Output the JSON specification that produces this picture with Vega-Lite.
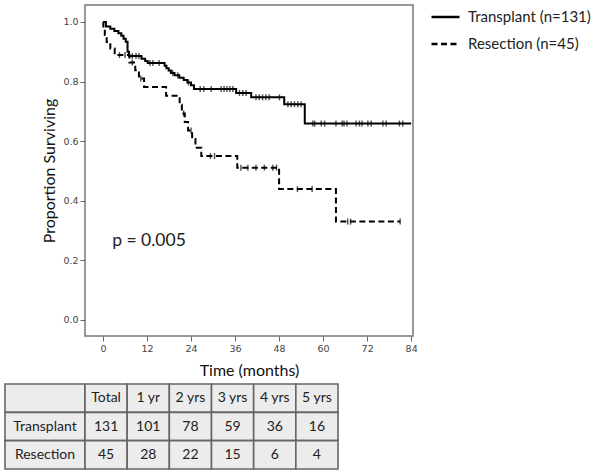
{
  "$schema": "https://vega.github.io/schema/vega-lite/v6.json",
  "padding": {"left": 4, "top": 4, "right": 0, "bottom": 0},
  "background": "white",
  "config": {
    "view": {"stroke": null},
    "font": "Lato",
    "axis": {
      "labelFont": "DejaVu Sans", "labelFontSize": 9.5, "labelColor": "#444",
      "tickColor": "#666", "tickSize": 5, "tickWidth": 1, "domain": false, "grid": false,
      "labelPadding": 2, "titleFont": "Lato", "titleFontSize": 16, "titleFontWeight": "normal",
      "titleColor": "#111"
    },
    "axisX": {"titlePadding": 10},
    "axisY": {"titlePadding": 5},
    "legend": {
      "title": null, "orient": "right", "offset": 12, "symbolType": "stroke", "symbolSize": 784,
      "symbolStrokeWidth": 2.5, "symbolStrokeColor": "black", "labelFont": "Lato", "labelFontSize": 15,
      "labelColor": "#222", "rowPadding": 3, "clipHeight": 24, "labelOffset": 7, "padding": 0
    }
  },
  "datasets": {
    "curves": [
      {"group": "Transplant (n=131)", "t": 0, "s": 1.0},
      {"group": "Transplant (n=131)", "t": 0.8, "s": 0.985},
      {"group": "Transplant (n=131)", "t": 2.0, "s": 0.977},
      {"group": "Transplant (n=131)", "t": 3.1, "s": 0.97},
      {"group": "Transplant (n=131)", "t": 4.2, "s": 0.962},
      {"group": "Transplant (n=131)", "t": 5.0, "s": 0.954},
      {"group": "Transplant (n=131)", "t": 5.6, "s": 0.944},
      {"group": "Transplant (n=131)", "t": 6.2, "s": 0.934},
      {"group": "Transplant (n=131)", "t": 6.7, "s": 0.9},
      {"group": "Transplant (n=131)", "t": 7.1, "s": 0.886},
      {"group": "Transplant (n=131)", "t": 10.5, "s": 0.877},
      {"group": "Transplant (n=131)", "t": 11.5, "s": 0.869},
      {"group": "Transplant (n=131)", "t": 12.2, "s": 0.862},
      {"group": "Transplant (n=131)", "t": 16.8, "s": 0.853},
      {"group": "Transplant (n=131)", "t": 17.3, "s": 0.845},
      {"group": "Transplant (n=131)", "t": 17.9, "s": 0.837},
      {"group": "Transplant (n=131)", "t": 18.5, "s": 0.829},
      {"group": "Transplant (n=131)", "t": 19.5, "s": 0.821},
      {"group": "Transplant (n=131)", "t": 20.8, "s": 0.813},
      {"group": "Transplant (n=131)", "t": 22.0, "s": 0.805},
      {"group": "Transplant (n=131)", "t": 23.0, "s": 0.797},
      {"group": "Transplant (n=131)", "t": 24.0, "s": 0.788},
      {"group": "Transplant (n=131)", "t": 24.8, "s": 0.775},
      {"group": "Transplant (n=131)", "t": 36.3, "s": 0.762},
      {"group": "Transplant (n=131)", "t": 40.4, "s": 0.747},
      {"group": "Transplant (n=131)", "t": 49.4, "s": 0.724},
      {"group": "Transplant (n=131)", "t": 55.0, "s": 0.659},
      {"group": "Transplant (n=131)", "t": 84.0, "s": 0.659},
      {"group": "Resection (n=45)", "t": 0, "s": 1.0},
      {"group": "Resection (n=45)", "t": 0.1, "s": 0.978},
      {"group": "Resection (n=45)", "t": 0.5, "s": 0.956},
      {"group": "Resection (n=45)", "t": 1.0, "s": 0.933},
      {"group": "Resection (n=45)", "t": 2.0, "s": 0.911},
      {"group": "Resection (n=45)", "t": 3.2, "s": 0.889},
      {"group": "Resection (n=45)", "t": 7.2, "s": 0.864},
      {"group": "Resection (n=45)", "t": 8.8, "s": 0.838},
      {"group": "Resection (n=45)", "t": 9.8, "s": 0.81},
      {"group": "Resection (n=45)", "t": 11.2, "s": 0.782},
      {"group": "Resection (n=45)", "t": 17.2, "s": 0.752},
      {"group": "Resection (n=45)", "t": 20.9, "s": 0.722},
      {"group": "Resection (n=45)", "t": 21.5, "s": 0.693},
      {"group": "Resection (n=45)", "t": 22.3, "s": 0.664},
      {"group": "Resection (n=45)", "t": 23.2, "s": 0.636},
      {"group": "Resection (n=45)", "t": 24.3, "s": 0.607},
      {"group": "Resection (n=45)", "t": 25.2, "s": 0.578},
      {"group": "Resection (n=45)", "t": 26.8, "s": 0.55},
      {"group": "Resection (n=45)", "t": 36.6, "s": 0.511},
      {"group": "Resection (n=45)", "t": 48.0, "s": 0.439},
      {"group": "Resection (n=45)", "t": 63.5, "s": 0.33},
      {"group": "Resection (n=45)", "t": 81.0, "s": 0.33}
    ],
    "censors": [
      {"group": "Transplant", "t": 8.0, "s": 0.886},
      {"group": "Transplant", "t": 9.0, "s": 0.886},
      {"group": "Transplant", "t": 9.8, "s": 0.886},
      {"group": "Transplant", "t": 12.8, "s": 0.862},
      {"group": "Transplant", "t": 13.6, "s": 0.862},
      {"group": "Transplant", "t": 15.3, "s": 0.862},
      {"group": "Transplant", "t": 19.0, "s": 0.829},
      {"group": "Transplant", "t": 20.4, "s": 0.821},
      {"group": "Transplant", "t": 23.3, "s": 0.797},
      {"group": "Transplant", "t": 26.5, "s": 0.775},
      {"group": "Transplant", "t": 27.5, "s": 0.775},
      {"group": "Transplant", "t": 29.5, "s": 0.775},
      {"group": "Transplant", "t": 32.2, "s": 0.775},
      {"group": "Transplant", "t": 33.0, "s": 0.775},
      {"group": "Transplant", "t": 33.8, "s": 0.775},
      {"group": "Transplant", "t": 34.6, "s": 0.775},
      {"group": "Transplant", "t": 35.4, "s": 0.775},
      {"group": "Transplant", "t": 37.2, "s": 0.762},
      {"group": "Transplant", "t": 38.1, "s": 0.762},
      {"group": "Transplant", "t": 39.0, "s": 0.762},
      {"group": "Transplant", "t": 41.7, "s": 0.747},
      {"group": "Transplant", "t": 42.6, "s": 0.747},
      {"group": "Transplant", "t": 43.5, "s": 0.747},
      {"group": "Transplant", "t": 44.4, "s": 0.747},
      {"group": "Transplant", "t": 45.3, "s": 0.747},
      {"group": "Transplant", "t": 48.1, "s": 0.747},
      {"group": "Transplant", "t": 50.4, "s": 0.724},
      {"group": "Transplant", "t": 51.3, "s": 0.724},
      {"group": "Transplant", "t": 52.2, "s": 0.724},
      {"group": "Transplant", "t": 53.1, "s": 0.724},
      {"group": "Transplant", "t": 54.0, "s": 0.724},
      {"group": "Transplant", "t": 57.2, "s": 0.659},
      {"group": "Transplant", "t": 57.7, "s": 0.659},
      {"group": "Transplant", "t": 59.5, "s": 0.659},
      {"group": "Transplant", "t": 60.4, "s": 0.659},
      {"group": "Transplant", "t": 63.5, "s": 0.659},
      {"group": "Transplant", "t": 65.2, "s": 0.659},
      {"group": "Transplant", "t": 65.7, "s": 0.659},
      {"group": "Transplant", "t": 66.5, "s": 0.659},
      {"group": "Transplant", "t": 69.0, "s": 0.659},
      {"group": "Transplant", "t": 69.9, "s": 0.659},
      {"group": "Transplant", "t": 70.6, "s": 0.659},
      {"group": "Transplant", "t": 72.2, "s": 0.659},
      {"group": "Transplant", "t": 73.1, "s": 0.659},
      {"group": "Transplant", "t": 76.3, "s": 0.659},
      {"group": "Transplant", "t": 77.2, "s": 0.659},
      {"group": "Transplant", "t": 80.8, "s": 0.659},
      {"group": "Transplant", "t": 81.7, "s": 0.659},
      {"group": "Resection", "t": 4.5, "s": 0.889},
      {"group": "Resection", "t": 6.0, "s": 0.889},
      {"group": "Resection", "t": 8.0, "s": 0.864},
      {"group": "Resection", "t": 10.3, "s": 0.81},
      {"group": "Resection", "t": 22.0, "s": 0.693},
      {"group": "Resection", "t": 24.0, "s": 0.636},
      {"group": "Resection", "t": 29.3, "s": 0.55},
      {"group": "Resection", "t": 30.4, "s": 0.55},
      {"group": "Resection", "t": 37.6, "s": 0.511},
      {"group": "Resection", "t": 39.5, "s": 0.511},
      {"group": "Resection", "t": 41.7, "s": 0.511},
      {"group": "Resection", "t": 44.0, "s": 0.511},
      {"group": "Resection", "t": 46.3, "s": 0.511},
      {"group": "Resection", "t": 47.3, "s": 0.511},
      {"group": "Resection", "t": 53.0, "s": 0.439},
      {"group": "Resection", "t": 57.0, "s": 0.439},
      {"group": "Resection", "t": 66.7, "s": 0.33},
      {"group": "Resection", "t": 67.5, "s": 0.33},
      {"group": "Resection", "t": 81.0, "s": 0.33}
    ],
    "table": [
      {"row": "header", "col": "label", "text": ""},
      {"row": "Transplant", "col": "label", "text": "Transplant"},
      {"row": "Resection", "col": "label", "text": "Resection"},
      {"row": "header", "col": "Total", "text": "Total"},
      {"row": "header", "col": "1 yr", "text": "1 yr"},
      {"row": "header", "col": "2 yrs", "text": "2 yrs"},
      {"row": "header", "col": "3 yrs", "text": "3 yrs"},
      {"row": "header", "col": "4 yrs", "text": "4 yrs"},
      {"row": "header", "col": "5 yrs", "text": "5 yrs"},
      {"row": "Transplant", "col": "Total", "text": "131"},
      {"row": "Transplant", "col": "1 yr", "text": "101"},
      {"row": "Transplant", "col": "2 yrs", "text": "78"},
      {"row": "Transplant", "col": "3 yrs", "text": "59"},
      {"row": "Transplant", "col": "4 yrs", "text": "36"},
      {"row": "Transplant", "col": "5 yrs", "text": "16"},
      {"row": "Resection", "col": "Total", "text": "45"},
      {"row": "Resection", "col": "1 yr", "text": "28"},
      {"row": "Resection", "col": "2 yrs", "text": "22"},
      {"row": "Resection", "col": "3 yrs", "text": "15"},
      {"row": "Resection", "col": "4 yrs", "text": "6"},
      {"row": "Resection", "col": "5 yrs", "text": "4"}
    ]
  },
  "columns": 2,
  "bounds": "flush",
  "spacing": {"row": 48, "column": 0},
  "concat": [
    {
      "width": 80, "height": 331,
      "data": {"values": []},
      "mark": "point"
    },
    {
      "width": 328, "height": 331,
      "view": {"stroke": "#777", "strokeWidth": 1.5},
      "layer": [
        {
          "data": {"name": "curves"},
          "mark": {"type": "line", "interpolate": "step-after", "strokeWidth": 2, "color": "black"},
          "encoding": {
            "x": {"field": "t", "type": "quantitative", "title": "Time (months)",
                  "scale": {"domain": [-4.9, 84.5], "nice": false, "zero": false},
                  "axis": {"values": [0, 12, 24, 36, 48, 60, 72, 84]}},
            "y": {"field": "s", "type": "quantitative", "title": "Proportion Surviving",
                  "scale": {"domain": [-0.054, 1.057], "nice": false, "zero": false},
                  "axis": {"values": [0, 0.2, 0.4, 0.6, 0.8, 1.0], "format": ".1f"}},
            "strokeDash": {"field": "group", "type": "nominal",
                           "scale": {"domain": ["Transplant (n=131)", "Resection (n=45)"], "range": [[1, 0], [6, 3.5]]}}
          }
        },
        {
          "data": {"name": "censors"},
          "mark": {"type": "tick", "orient": "vertical", "size": 6, "thickness": 1.4, "color": "black"},
          "encoding": {
            "x": {"field": "t", "type": "quantitative"},
            "y": {"field": "s", "type": "quantitative"}
          }
        },
        {
          "data": {"values": [{"label": "p = 0.005"}]},
          "mark": {"type": "text", "align": "left", "baseline": "middle", "fontSize": 17.5, "font": "Lato", "color": "#222"},
          "encoding": {
            "x": {"datum": 2.5, "type": "quantitative"},
            "y": {"datum": 0.265, "type": "quantitative"},
            "text": {"field": "label"}
          }
        }
      ]
    },
    {
      "width": 80, "height": 85,
      "data": {"name": "table"},
      "transform": [{"filter": "datum.col === 'label'"}],
      "encoding": {
        "y": {"field": "row", "type": "nominal", "axis": null,
              "scale": {"domain": ["header", "Transplant", "Resection"], "paddingInner": 0, "paddingOuter": 0}}
      },
      "layer": [
        {"mark": {"type": "rect", "fill": "#ececec", "stroke": "#666", "strokeWidth": 1.6}},
        {"mark": {"type": "text", "fontSize": 14, "font": "Lato", "color": "#222"},
         "encoding": {"text": {"field": "text"}}}
      ]
    },
    {
      "width": 253, "height": 85,
      "data": {"name": "table"},
      "transform": [{"filter": "datum.col !== 'label'"}],
      "encoding": {
        "x": {"field": "col", "type": "nominal", "axis": null,
              "scale": {"domain": ["Total", "1 yr", "2 yrs", "3 yrs", "4 yrs", "5 yrs"], "paddingInner": 0, "paddingOuter": 0}},
        "y": {"field": "row", "type": "nominal", "axis": null,
              "scale": {"domain": ["header", "Transplant", "Resection"], "paddingInner": 0, "paddingOuter": 0}}
      },
      "layer": [
        {"mark": {"type": "rect", "fill": "#ececec", "stroke": "#666", "strokeWidth": 1.6}},
        {"mark": {"type": "text", "fontSize": 14, "font": "Lato", "color": "#222"},
         "encoding": {"text": {"field": "text"}}}
      ]
    }
  ]
}
